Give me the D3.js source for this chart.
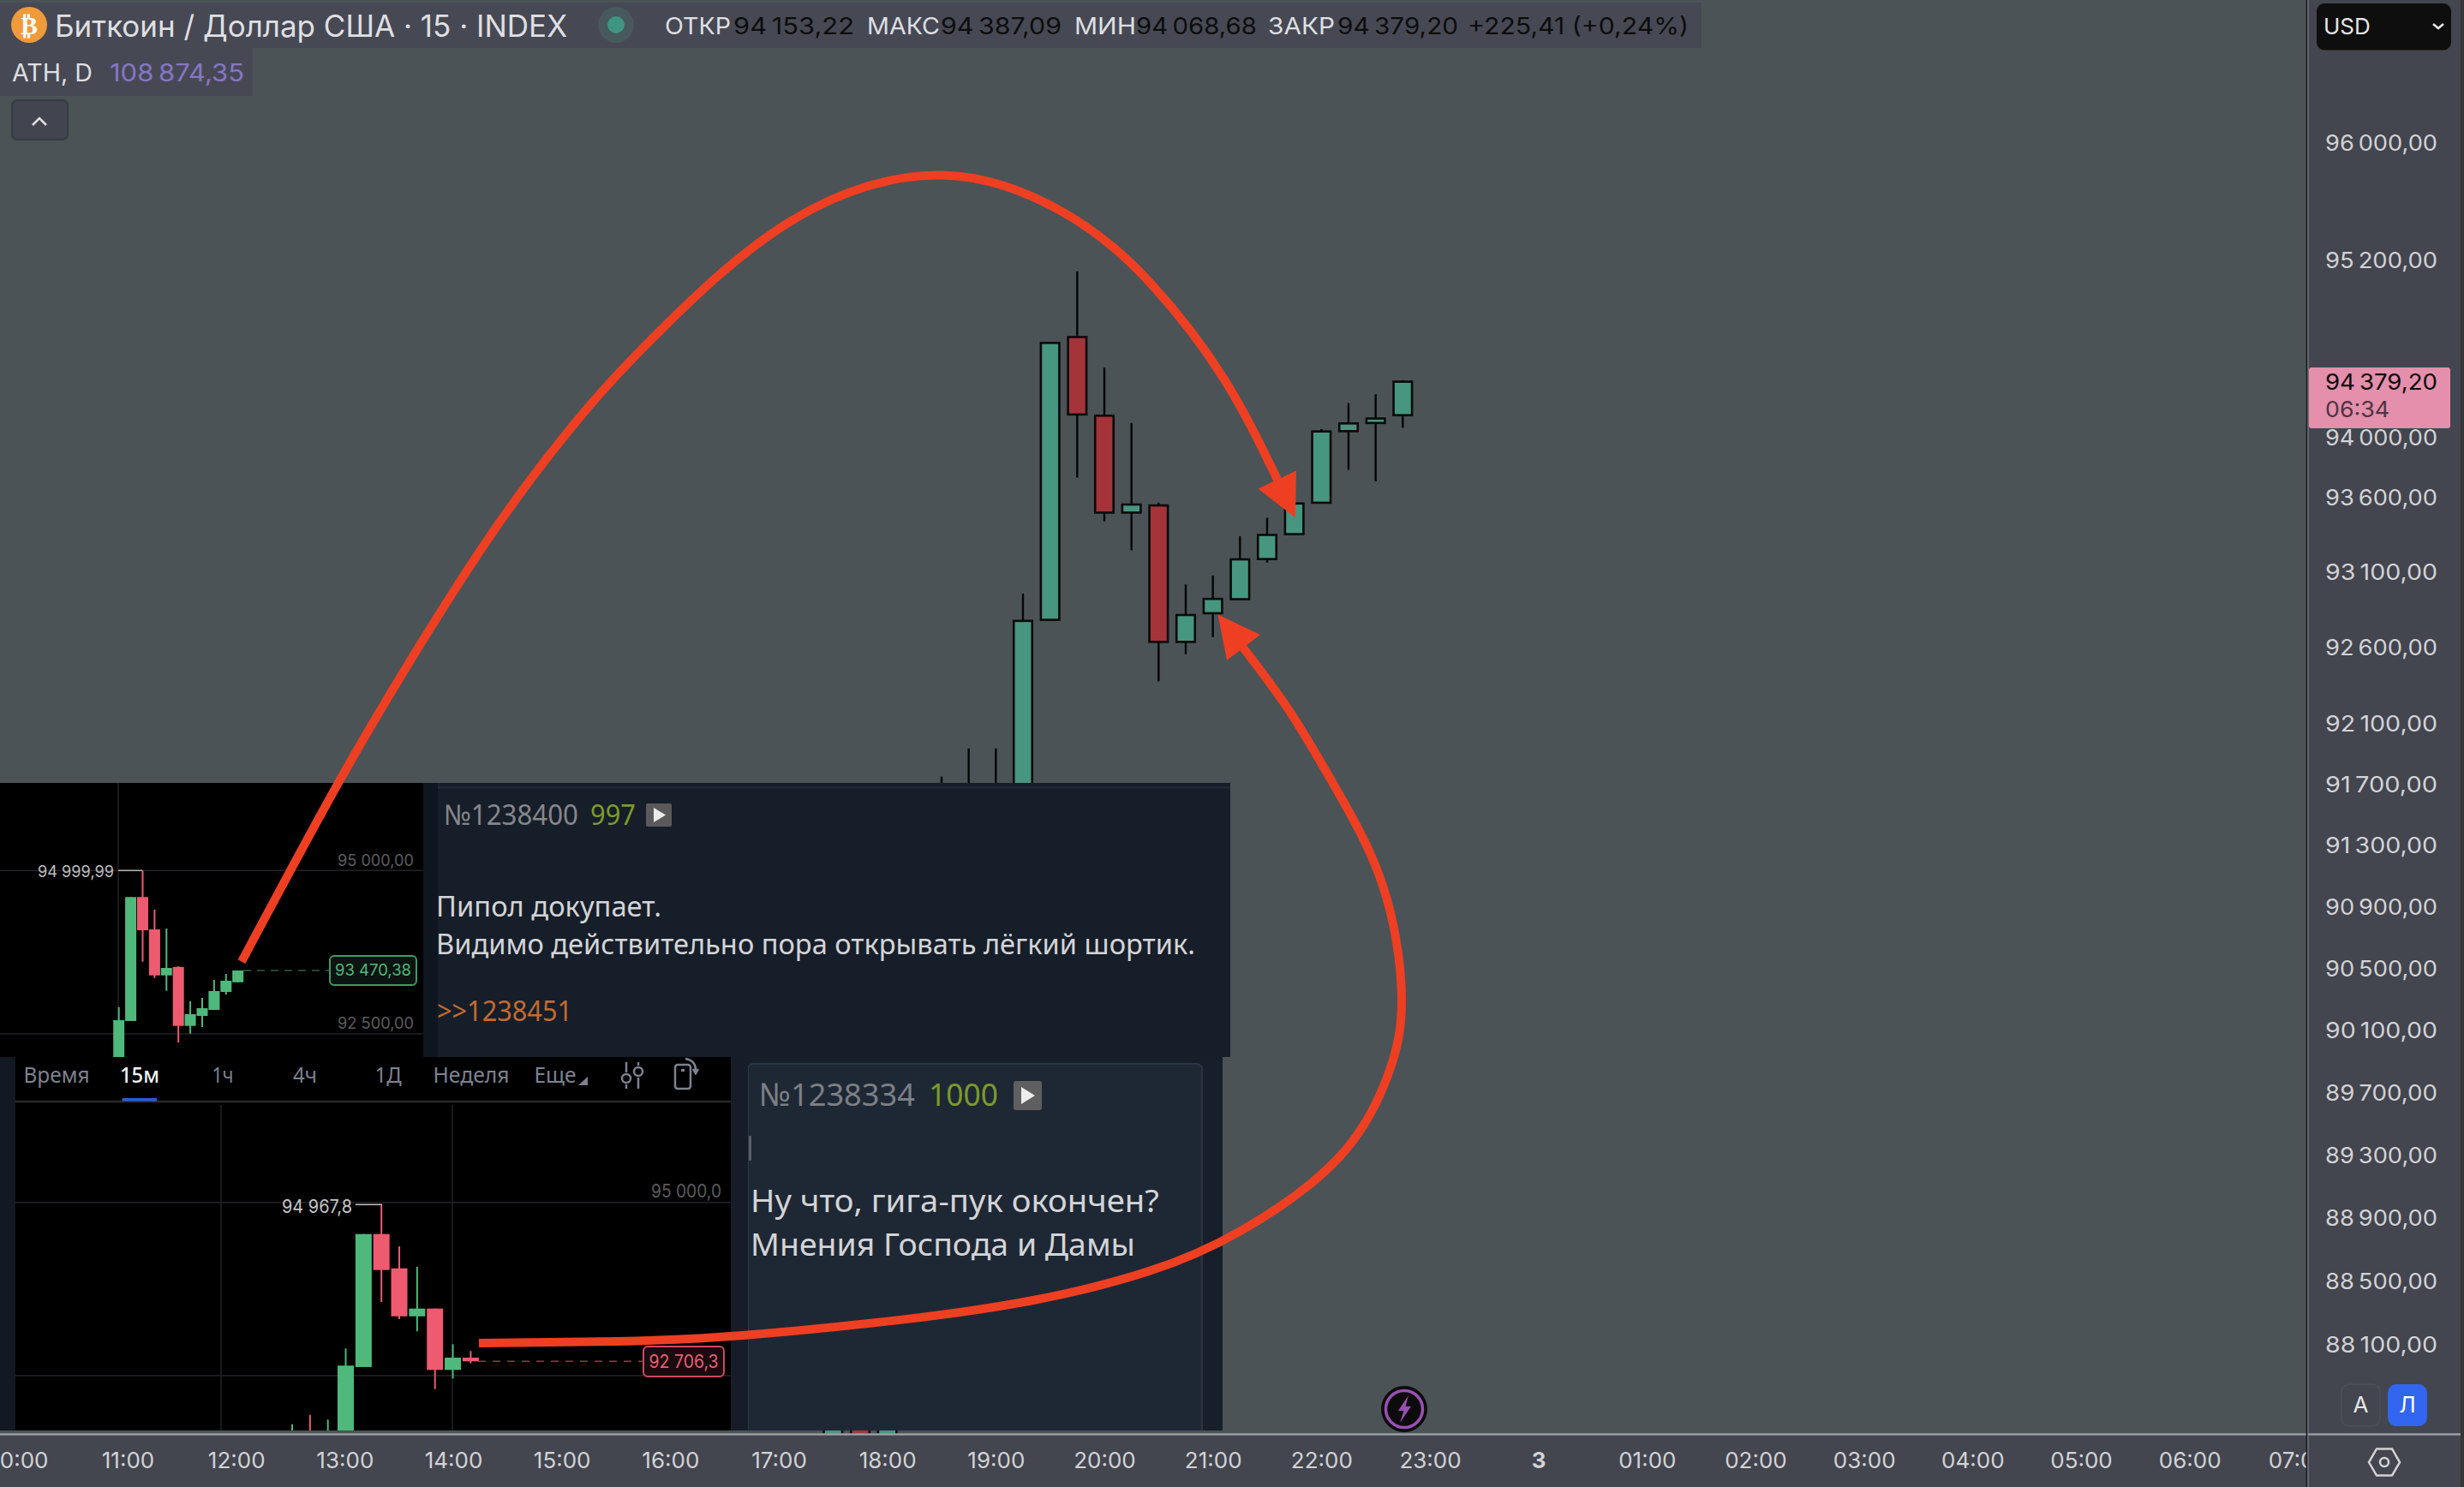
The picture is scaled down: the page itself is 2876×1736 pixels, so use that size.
<!DOCTYPE html>
<html><head><meta charset="utf-8">
<script src="https://cdn.jsdelivr.net/npm/d3@7/dist/d3.min.js"></script>
<style>html,body{margin:0;padding:0;background:#4b5356;overflow:hidden}svg{display:block}text{font-family:Inter,"Noto Sans",sans-serif}</style>
</head><body><script>
// ---- main chart data
const mainHours=[17.5,17.75,18,18.5,18.75,19,19.25,19.5,19.75,20,20.25,20.5,20.75,21,21.25,21.5,21.75,22,22.25,22.5,22.75];
const mainOpen =[87400,88000,87450,91000,91100,91200,91500,92786,94681,94150,93500,93548,92640,92830,92923,93190,93356,93566,94046,94101,94153.22];
const mainClose=[88000,87450,88100,91200,91400,91500,92779,94641,94158,93500,93554,92640,92818,92925,93188,93351,93561,94044,94098,94131,94379.20];
const mainHigh =[88100,88050,88150,91752,91937,91937,92960,94641,95127,94473,94101,93566,93021,93081,93343,93465,93599,94060,94235,94294,94387.09];
const mainLow  =[87350,87400,87400,90900,91000,91100,91400,92786,93734,93442,93249,92379,92559,92671,92923,93167,93356,93566,93786,93709,94068.68];
const priceTicks=[96000,95200,94000,93600,93100,92600,92100,91700,91300,90900,90500,90100,89700,89300,88900,88500,88100];
const timeTicks=[10,11,12,13,14,15,16,17,18,19,20,21,22,23,24,25,26,27,28,29,30,31];
const timeLabels=["10:00","11:00","12:00","13:00","14:00","15:00","16:00","17:00","18:00","19:00","20:00","21:00","22:00","23:00","3","01:00","02:00","03:00","04:00","05:00","06:00","07:00"];
// ---- upper screenshot (index, o, h, l, c)
const upOpen =[91900,92697,94594,94099,93395,93523,92622,92775,92867,93142,93290];
const upClose=[92710,94594,94086,93395,93509,92622,92802,92893,93155,93313,93470.38];
const upHigh =[92910,94594,94999.99,94401,94113,93536,92998,93051,93326,93418,93470.38];
const upLow  =[91850,92697,93605,93356,93159,92369,92504,92605,92867,93103,93290];
// ---- lower screenshot
const lowOpen =[91000,91200,91000,91400,92624,94543,94048,93356,93468,92583,92760];
const lowClose=[91300,91000,91300,92645,94543,94024,93356,93468,92583,92760,92706.3];
const lowHigh =[91799,91935,91866,92892,94543,94967.8,94366,94069,93468,92954,92855];
const lowLow  =[90900,90900,90900,91300,92624,93563,93316,93139,92306,92459,92677];
// ---- texts
const headerTitle="Биткоин / Доллар США · 15 · INDEX";
const ohlcNames=["ОТКР","МАКС","МИН","ЗАКР"];
const ohlcValues=[94153.22,94387.09,94068.68,94379.20];
const lastPrice=94379.20, priceChange=225.41, changePct=0.24, athValue=108874.35;
const tabs=["Время","15м","1ч","4ч","1Д","Неделя","Еще"];

const W=2876,H=1736;
const svg=d3.select("body").append("svg").attr("width",W).attr("height",H);
const ru=d3.formatLocale({decimal:",",thousands:"\u2009",grouping:[3],currency:["",""]});
const f2=ru.format(",.2f");
const ruSp=d3.formatLocale({decimal:",",thousands:"\u00a0",grouping:[3],currency:["",""]});
const f2s=ruSp.format(",.2f"), f1s=ruSp.format(",.1f");

function rect(g,x,y,w,h,fill,o={}){return g.append("rect").attr("x",x).attr("y",y).attr("width",w).attr("height",h).attr("fill",fill).attr("rx",o.r||0).attr("stroke",o.s||"none").attr("stroke-width",o.sw||0);}
function line(g,x1,y1,x2,y2,c,w=2,dash){const l=g.append("line").attr("x1",x1).attr("y1",y1).attr("x2",x2).attr("y2",y2).attr("stroke",c).attr("stroke-width",w);if(dash)l.attr("stroke-dasharray",dash);return l;}
function txt(g,x,y,s,size,fill,o={}){
  const t=g.append("text").attr("x",x).attr("y",y).attr("dy",".36em").attr("font-size",size).attr("fill",fill).attr("text-anchor",o.a||"start").text(s);
  if(o.fam)t.style("font-family",o.fam); if(o.wt)t.attr("font-weight",o.wt); if(o.st)t.attr("font-style",o.st);
  if(o.w)t.attr("textLength",o.w).attr("lengthAdjust","spacingAndGlyphs");
  return t;}

function candles(g,idx,open,high,low,close,x,y,o){
  const data=idx.map((v,i)=>({v,o:open[i],h:high[i],l:low[i],c:close[i]}));
  const s=g.selectAll("g").data(data).join("g");
  s.append("line").attr("x1",d=>x(d.v)).attr("x2",d=>x(d.v)).attr("y1",d=>y(d.h)).attr("y2",d=>y(d.l))
    .attr("stroke",d=>o.wick||(d.c>=d.o?o.up:o.down)).attr("stroke-width",o.ww);
  s.append("rect").attr("x",d=>x(d.v)-o.bw/2).attr("width",o.bw)
    .attr("y",d=>Math.min(y(d.o),y(d.c))).attr("height",d=>Math.max(o.minH,Math.abs(y(d.o)-y(d.c))))
    .attr("fill",d=>d.c>=d.o?o.up:o.down).attr("stroke",o.stroke||"none").attr("stroke-width",o.stroke?o.sw:0);
}

// ---- scales
const x=d3.scaleLinear().domain([14,23]).range([529,1669]);
const y=d3.scaleLog().domain([88100,96000]).range([1570,167.5]);

// background
rect(svg,0,0,W,H,"#4b5356");

// main candles
candles(svg.append("g"),mainHours,mainOpen,mainHigh,mainLow,mainClose,x,y,{up:"#47967f",down:"#a5343a",wick:"#050505",ww:2.4,bw:21.5,minH:3,stroke:"#0a0a0a",sw:2.6});

// ---- upper message panel
rect(svg,494,914,942,320,"#161e2a");
line(svg,511,919.5,1436,919.5,"#222b38",2);
rect(svg,494,914,17,320,"#0f161f");
txt(svg,518,951,"№1238400",33,"#85878a",{fam:"Noto Sans",w:157});
txt(svg,689,951,"997",33,"#7d9a2a",{fam:"Noto Sans",w:53});
rect(svg,754,938,30,27,"#5a5a5a",{r:2});
svg.append("path").attr("d","M763 943L777 951.5L763 960Z").attr("fill","#ececec");
txt(svg,509,1058,"Пипол докупает.",32,"#d4d4d6",{fam:"Noto Sans",w:263});
txt(svg,509,1102,"Видимо действительно пора открывать лёгкий шортик.",32,"#d4d4d6",{fam:"Noto Sans",w:886});
txt(svg,510,1180,">>1238451",33,"#c46a2e",{fam:"Noto Sans",w:158});

// ---- upper mini chart
rect(svg,0,914,494,320,"#000");
svg.append("clipPath").attr("id","cUp").append("rect").attr("x",0).attr("y",914).attr("width",494).attr("height",320);
const upG=svg.append("g").attr("clip-path","url(#cUp)");
const ux=d3.scaleLinear().domain([0,10]).range([138.7,277.7]);
const uy=d3.scaleLinear().domain([92500,95000]).range([1207,1016.3]);
line(upG,0,uy(95000),494,uy(95000),"#232328",1.5);
line(upG,0,uy(92500),494,uy(92500),"#232328",1.5);
line(upG,138,914,138,1234,"#232328",1.5);
candles(upG,d3.range(upOpen.length),upOpen,upHigh,upLow,upClose,ux,uy,{up:"#4fb87b",down:"#ee5a6f",ww:2,bw:13,minH:2});
line(upG,138,uy(94999.99),166,uy(94999.99),"#b5b5b5",1.5);
txt(upG,44,1017,f2s(94999.99),19,"#bdbdbd",{w:89});
txt(upG,483,1004,f2s(95000),19,"#5c5c5c",{a:"end",w:89});
txt(upG,483,1194,f2s(92500),19,"#5c5c5c",{a:"end",w:89});
line(upG,284,uy(93470.38),385,uy(93470.38),"#2f5c42",1.5,"9 7");
rect(upG,385,1116,101,34,"#0c1412",{r:5,s:"#3d9a68",sw:2});
txt(upG,435.5,1132.5,f2s(93470.38),19,"#4fb87b",{a:"middle",w:89});

// ---- lower message panel
rect(svg,853,1234,574,436,"#171f2b");
svg.append("clipPath").attr("id","cMsg").append("rect").attr("x",853).attr("y",1234).attr("width",574).attr("height",436);
rect(svg.append("g").attr("clip-path","url(#cMsg)"),873,1242,530,440,"#1e2835",{r:6,s:"#2a3543",sw:2});
rect(svg,853,1234,20,436,"#161d28");
rect(svg,874,1326,3,29,"#59606a",{r:1});
txt(svg,886,1278,"№1238334",37,"#7c7f84",{fam:"Noto Sans",w:182});
txt(svg,1084,1278,"1000",37,"#7d9a2a",{fam:"Noto Sans",w:81});
rect(svg,1183,1262,33,34,"#5f5f5f",{r:3});
svg.append("path").attr("d","M1192 1269L1208 1279L1192 1289Z").attr("fill","#ececec");
txt(svg,876,1402,"Ну что, гига-пук окончен?",37,"#d4d4d6",{fam:"Noto Sans",w:477});
txt(svg,876,1453,"Мнения Господа и Дамы",37,"#d4d4d6",{fam:"Noto Sans",w:449});

// ---- lower mini chart
rect(svg,0,1234,18,436,"#111922");
rect(svg,18,1234,835,436,"#000");
svg.append("clipPath").attr("id","cLow").append("rect").attr("x",18).attr("y",1234).attr("width",835).attr("height",436);
const lowG=svg.append("g").attr("clip-path","url(#cLow)");
const lx=d3.scaleLinear().domain([0,10]).range([341,549.4]);
const ly=d3.scaleLinear().domain([92500,95000]).range([1606,1403.7]);
line(lowG,18,1286,853,1286,"#2a2a2a",2.5);
rect(lowG,142.5,1282,40.5,3.5,"#2a5bd7");
const tabX=[66,163,260,356,453,550,648], tabW=[77,46,25,28,31,89,49];
tabs.forEach((t,i)=>txt(lowG,tabX[i],1255,t,25,i==1?"#f2f2f2":"#7d8290",{a:"middle",w:tabW[i],fam:"Noto Sans",wt:i==1?500:400}));
lowG.append("path").attr("d","M675 1267L686 1267L686 1257Z").attr("fill","#7d8290");
// slider + rotate icons
const ico=lowG.append("g").attr("stroke","#7d8290").attr("stroke-width",2.5).attr("fill","none");
ico.append("path").attr("d","M731 1240V1252M731 1266V1271M745 1240V1244M745 1258V1271");
ico.append("circle").attr("cx",731).attr("cy",1259).attr("r",5);
ico.append("circle").attr("cx",745).attr("cy",1251).attr("r",5);
ico.append("rect").attr("x",788).attr("y",1243).attr("width",18).attr("height",28).attr("rx",3);
ico.append("path").attr("d","M800 1236Q813 1238 812 1252M809 1248L812 1253L815 1248");
lowG.append("rect").attr("x",795).attr("y",1248).attr("width",4).attr("height",3).attr("fill","#7d8290");

line(lowG,18,ly(95000),853,ly(95000),"#232328",1.5);
line(lowG,18,ly(92500),853,ly(92500),"#232328",1.5);
line(lowG,258,1290,258,1670,"#232328",1.5);
line(lowG,528,1290,528,1670,"#232328",1.5);
candles(lowG,d3.range(lowOpen.length),lowOpen,lowHigh,lowLow,lowClose,lx,ly,{up:"#4fb87b",down:"#ee5a6f",ww:2,bw:19,minH:4});
line(lowG,415,ly(94967.8),446,ly(94967.8),"#c5c5c5",1.5);
txt(lowG,329,1408,f1s(94967.8),21,"#c5c5c5",{w:82});
txt(lowG,842,1390,f1s(95000),21,"#5c5c5c",{a:"end",w:82});
line(lowG,558,ly(92706.3),751,ly(92706.3),"#8b3d4a",1.5,"9 8");
rect(lowG,751,1572,94,35,"#190b0f",{r:5,s:"#d0485f",sw:2});
txt(lowG,798,1589,f1s(92706.3),21,"#e85e72",{a:"middle",w:81});

// ---- time axis
rect(svg,0,1675,W,61,"#43454f");
const tAxis=svg.append("g").attr("transform","translate(0,1674)")
  .call(d3.axisBottom(x).tickValues(timeTicks).tickSize(0).tickPadding(22).tickFormat((d,i)=>timeLabels[i]));
tAxis.select(".domain").remove();
tAxis.selectAll("text").style("font-family","Inter").attr("font-size",26).attr("fill","#d2d3d5")
  .attr("font-weight",(d,i)=>timeLabels[i]=="3"?700:400);
line(svg,0,1674.5,W,1674.5,"#9a9da3",2.5);

// ---- price axis
rect(svg,2693,0,183,H,"#43454f");
rect(svg,2872,0,4,H,"#353535");
line(svg,2692.5,0,2692.5,H,"#17181b",1.6);
line(svg,2694,0,2694,H,"#8b8e96",1);
line(svg,2694,1674.5,2872,1674.5,"#9a9da3",2.5);
const pAxis=svg.append("g").attr("transform","translate(2693,0)")
  .call(d3.axisRight(y).tickValues(priceTicks).tickSize(0).tickPadding(21).tickFormat(d=>f2(d)));
pAxis.select(".domain").remove();
pAxis.selectAll("text").style("font-family","Inter").attr("font-size",26).attr("fill","#d2d3d5")
  .attr("textLength",131).attr("lengthAdjust","spacingAndGlyphs");
// USD
rect(svg,2704,4,157,54.5,"#0e0e0e",{r:9});
txt(svg,2712,31,"USD",26,"#e6e6e6");
svg.append("path").attr("d","M2840 28L2846 33L2852 28").attr("fill","none").attr("stroke","#e6e6e6").attr("stroke-width",2.5);
// last price
rect(svg,2695,429,165,71,"#e48fac",{r:3});
txt(svg,2714,446,f2(lastPrice),26,"#0b0b0b",{w:131});
txt(svg,2714,478,"06:34",26,"#4d3440",{w:75});
// A / Л
rect(svg,2733,1616,45,49,"#43454f",{r:9,s:"#4b4d55",sw:2});
txt(svg,2755.5,1640,"А",26,"#e6e6e6",{a:"middle"});
rect(svg,2787,1616,46,49,"#3265f0",{r:10});
txt(svg,2810,1640,"Л",26,"#ffffff",{a:"middle"});
// settings
const hx=d3.line()(d3.range(6).map(i=>[2783+18*Math.cos(Math.PI/3*i),1707+18*Math.sin(Math.PI/3*i)]))+"Z";
svg.append("path").attr("d",hx).attr("fill","none").attr("stroke","#d2d3d5").attr("stroke-width",2.5);
svg.append("circle").attr("cx",2783).attr("cy",1707).attr("r",5).attr("fill","none").attr("stroke","#d2d3d5").attr("stroke-width",2.5);

// ---- legend
rect(svg,0,3,1986,53,"#464954");
rect(svg,0,56,295,56,"#464954");
svg.append("circle").attr("cx",34).attr("cy",29).attr("r",21).attr("fill","#ef9a3b");
txt(svg,34,29,"₿",30,"#ffffff",{a:"middle",wt:700,fam:"DejaVu Sans"});
txt(svg,64,30,headerTitle,35,"#dfdfe1",{w:598});
svg.append("circle").attr("cx",719).attr("cy",29).attr("r",21).attr("fill","#47595c");
svg.append("circle").attr("cx",719).attr("cy",29).attr("r",10).attr("fill","#3f9482");
const nameX=[776,1012,1254,1480], nameW=[77,85,72,78], valX=[856,1098,1326,1561];
ohlcNames.forEach((n,i)=>{
  txt(svg,nameX[i],30,n,27,"#dfdfe1",{w:nameW[i]});
  txt(svg,valX[i],30,f2(ohlcValues[i]),27,"#0d0d0d",{w:141});
});
txt(svg,1713,30,"+"+ru.format(".2f")(priceChange)+" (+"+ru.format(".2f")(changePct)+"%)",27,"#0d0d0d",{w:258});
txt(svg,14,85,"ATH, D",28,"#dfdfe1",{w:94});
txt(svg,128,85,f2(athValue),28,"#8676c6",{w:157});
rect(svg,14,117,65,46,"#42454f",{r:6,s:"#383a42",sw:2});
svg.append("path").attr("d","M38 146L46 138L54 146").attr("fill","none").attr("stroke","#dfdfe1").attr("stroke-width",2.5);

// ---- lightning
svg.append("circle").attr("cx",1639).attr("cy",1645).attr("r",27).attr("fill","#0c0c0c");
svg.append("circle").attr("cx",1639).attr("cy",1645).attr("r",21.5).attr("fill","none").attr("stroke","#9b4fb5").attr("stroke-width",3.5);
svg.append("path").attr("d","M1644 1629L1632 1647L1638.5 1647L1634 1661L1647 1642L1640.5 1642Z").attr("fill","#9b4fb5");

// ---- hand-drawn annotation arrows
const red="#ee3f22";
const arrow1=[[282,1122.7],[393.8,916],[488.5,755.7],[586.7,604.7],[685,477.3],[776,380.6],[923.4,257.9],[1098.8,204.5],[1246,250.8],[1345,333],[1429,443],[1491,560]];
const head1=[[1468.5,570.6],[1513,549.4],[1512,604.5]];
const arrow2=[[559,1568],[720,1566],[867,1559],[1053,1540.6],[1206,1518],[1338.8,1484.8],[1450,1436],[1563,1351],[1620,1255],[1636,1163],[1614,1034],[1559,920],[1505.7,831],[1451,756]];
const head2=[[1421.5,717.6],[1471,741],[1432,771]];
const curve=d3.line().curve(d3.curveNatural);
[arrow1,arrow2].forEach(p=>svg.append("path").attr("d",curve(p)).attr("fill","none").attr("stroke",red).attr("stroke-width",10));
[head1,head2].forEach(p=>svg.append("path").attr("d",d3.line()(p)+"Z").attr("fill",red));
</script></body></html>
